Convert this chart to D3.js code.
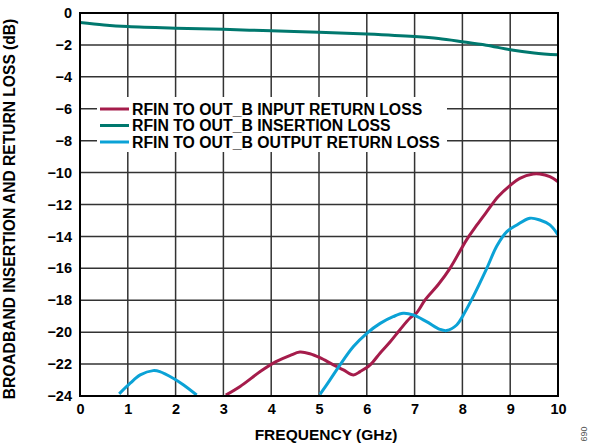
<!DOCTYPE html>
<html><head><meta charset="utf-8">
<script src="https://cdn.jsdelivr.net/npm/d3@7"></script>
<style>body{margin:0;background:#fff}svg{display:block}text{font-family:"Liberation Sans",Arial,sans-serif;font-weight:bold}</style>
</head><body><svg id="c" width="593" height="444"></svg>
<script>
const xTicks=[0,1,2,3,4,5,6,7,8,9,10];
const yTicks=[0,-2,-4,-6,-8,-10,-12,-14,-16,-18,-20,-22,-24];
const seriesNames=["RFIN TO OUT_B INPUT RETURN LOSS","RFIN TO OUT_B INSERTION LOSS","RFIN TO OUT_B OUTPUT RETURN LOSS"];
const seriesColors=["#A51C4B","#00786E","#0BA2D6"];
const insFreq=[0,0.5,1,2,3,4,5,6,7,7.5,8,8.5,9,9.5,10];
const insLoss=[-0.6,-0.75,-0.85,-0.95,-1.02,-1.12,-1.2,-1.32,-1.48,-1.6,-1.8,-2.02,-2.3,-2.5,-2.62];
const inFreq=[3.05,3.35,3.77,4.1,4.4,4.6,4.81,5.02,5.3,5.51,5.72,5.86,6.07,6.28,6.49,6.69,6.9,7.04,7.22,7.5,7.74,8.09,8.3,8.51,8.75,9.0,9.2,9.48,9.62,9.83,10];
const inLoss=[-23.94,-23.4,-22.47,-21.85,-21.45,-21.25,-21.35,-21.6,-22.05,-22.36,-22.68,-22.47,-22.05,-21.3,-20.6,-19.86,-19.13,-18.8,-17.98,-17.0,-16.0,-14.2,-13.3,-12.45,-11.5,-10.8,-10.36,-10.09,-10.09,-10.26,-10.57];
const outFreq=[0.82,1.05,1.26,1.53,1.67,1.95,2.16,2.44,5.02,5.23,5.44,5.72,6.0,6.28,6.55,6.76,6.97,7.25,7.53,7.67,7.88,8.02,8.19,8.51,8.72,8.93,9.13,9.41,9.62,9.83,10];
const outLoss=[-23.87,-23.2,-22.68,-22.41,-22.47,-22.89,-23.3,-23.94,-23.9,-22.99,-22.05,-20.9,-20.07,-19.45,-19.03,-18.82,-18.92,-19.34,-19.82,-19.9,-19.55,-18.92,-17.98,-16.0,-14.6,-13.7,-13.3,-12.86,-12.97,-13.28,-13.9];

const svg=d3.select("#c");
const L=80,R=558,T=13,B=396;
const x=d3.scaleLinear().domain([0,10]).range([L,R]);
const y=d3.scaleLinear().domain([0,-24]).range([T,B]);

const g=svg.append("g");
g.selectAll(".vg").data(xTicks.slice(1,-1)).enter().append("line")
 .attr("x1",d=>x(d)).attr("x2",d=>x(d)).attr("y1",T).attr("y2",B)
 .attr("stroke","#333").attr("stroke-width",1.5);
g.selectAll(".hg").data(yTicks.slice(1,-1)).enter().append("line")
 .attr("x1",L).attr("x2",R).attr("y1",d=>y(d)).attr("y2",d=>y(d))
 .attr("stroke","#333").attr("stroke-width",1.5);

g.append("rect").attr("x",97).attr("y",97).attr("width",350).attr("height",55).attr("fill","#fff");

svg.append("clipPath").attr("id","clp").append("rect").attr("x",L).attr("y",T).attr("width",R-L).attr("height",B-T);

const line=d3.line().x(d=>x(d[0])).y(d=>y(d[1])).curve(d3.curveCatmullRom.alpha(0.5));
function draw(fr,vals,color){
  const pts=fr.map((f,i)=>[f,vals[i]]);
  g.append("path").attr("d",line(pts)).attr("fill","none").attr("stroke",color).attr("stroke-width",3).attr("clip-path","url(#clp)");
}
draw(insFreq,insLoss,seriesColors[1]);
draw(inFreq,inLoss,seriesColors[0]);
draw(outFreq.slice(0,8),outLoss.slice(0,8),seriesColors[2]);
draw(outFreq.slice(8),outLoss.slice(8),seriesColors[2]);

g.append("rect").attr("x",L).attr("y",T).attr("width",R-L).attr("height",B-T).attr("fill","none").attr("stroke","#000").attr("stroke-width",2);

const xa=d3.axisBottom(x).tickValues(xTicks).tickSize(0).tickPadding(8).tickFormat(d3.format("d"));
svg.append("g").attr("transform",`translate(0,${B})`).call(xa).call(s=>s.select(".domain").remove())
 .selectAll("text").attr("font-size",14.5).attr("fill","#000").style("font-family","Liberation Sans, Arial, sans-serif").style("font-weight","bold");
const ya=d3.axisLeft(y).tickValues(yTicks).tickSize(0).tickPadding(8).tickFormat(d=>d===0?"0":"\u2212"+Math.abs(d));
svg.append("g").attr("transform",`translate(${L},0)`).call(ya).call(s=>s.select(".domain").remove())
 .selectAll("text").attr("font-size",14.5).attr("fill","#000").style("font-family","Liberation Sans, Arial, sans-serif").style("font-weight","bold");

[0,1,2].forEach((k,i)=>{
  const yy=109+i*16.5;
  svg.append("line").attr("x1",100).attr("x2",129).attr("y1",yy).attr("y2",yy).attr("stroke",seriesColors[k]).attr("stroke-width",3);
  svg.append("text").attr("x",132).attr("y",yy+5.5).attr("font-size",15.8).attr("fill","#000").text(seriesNames[k]);
});

svg.append("text").attr("x",326).attr("y",440).attr("text-anchor","middle").attr("font-size",15.5).text("FREQUENCY (GHz)");
svg.append("text").attr("transform",`translate(15,209) rotate(-90)`).attr("text-anchor","middle").attr("font-size",15.6).text("BROADBAND INSERTION AND RETURN LOSS (dB)");
svg.append("text").attr("transform","translate(581,434) rotate(90)").attr("text-anchor","middle").attr("font-size",9).attr("fill","#555").style("font-weight","normal").text("069");
</script></body></html>
